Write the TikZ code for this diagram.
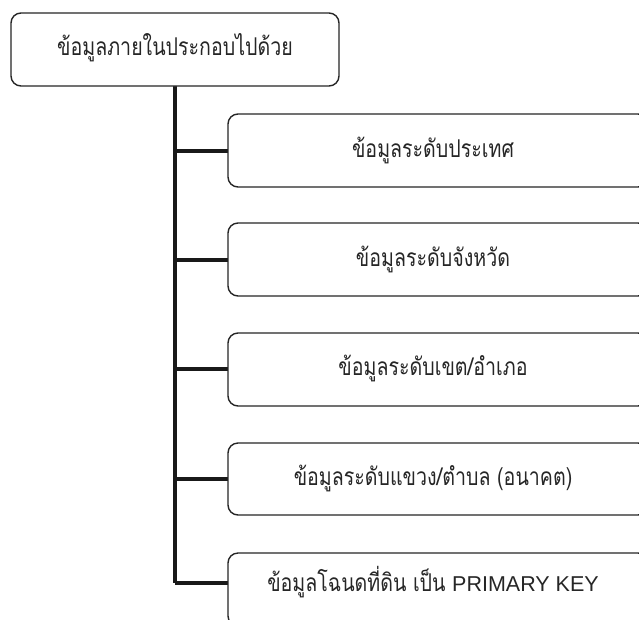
\documentclass[tikz,border=0pt]{standalone}
\usepackage{fontspec}
\usepackage{graphicx}
\newfontfamily\thaifont[Script=Thai]{Loma}
\newfontfamily\latinfont{Liberation Sans}
\newcommand{\thtxt}[1]{\scalebox{0.8}[1]{\thaifont\fontsize{24.5}{28}\selectfont #1}}
\begin{document}
\begin{tikzpicture}[x=1pt,y=-1pt,
  box/.style={draw=black!85, line width=1.4pt, rounded corners=10pt, fill=white},
  lbl/.style={text=black!85, inner sep=0pt},
  conn/.style={line width=4.5pt, draw=black!90}]
\useasboundingbox (0,0) rectangle (639,619);
\clip (0,0) rectangle (639,619);
\fill[white] (0,0) rectangle (639,619);
% spine
\coordinate (top) at (175,86);
\coordinate (bot) at (175,583);
\draw[conn] (top) -- (bot);
% connectors
\foreach \y/\n in {151/c1,260/c2,369/c3,479/c4,583/c5}{
  \coordinate (j\n) at (175,\y);
  \coordinate (e\n) at (229,\y);
  \draw[conn] (j\n) -- (e\n);
}
% top box
\draw[box] (11,13) rectangle (339,86);
\node[lbl] (root) at (175,48) {\thtxt{ข้อมูลภายในประกอบไปด้วย}};
% children
\draw[box] (228,114) rectangle (648,187);
\node[lbl] (n1) at (433,150) {\thtxt{ข้อมูลระดับประเทศ}};
\draw[box] (228,223) rectangle (648,296);
\node[lbl] (n2) at (433,259) {\thtxt{ข้อมูลระดับจังหวัด}};
\draw[box] (228,333) rectangle (648,406);
\node[lbl] (n3) at (433,368) {\thtxt{ข้อมูลระดับเขต/อำเภอ}};
\draw[box] (228,443) rectangle (648,515);
\node[lbl] (n4) at (433,478) {\thtxt{ข้อมูลระดับแขวง/ตำบล (อนาคต)}};
\draw[box] (228,553) rectangle (648,626);
\node[lbl] (n5) at (433,582) {\thtxt{ข้อมูลโฉนดที่ดิน เป็น }{\latinfont\fontsize{21.5}{24}\selectfont PRIMARY KEY}};
\end{tikzpicture}
\end{document}
